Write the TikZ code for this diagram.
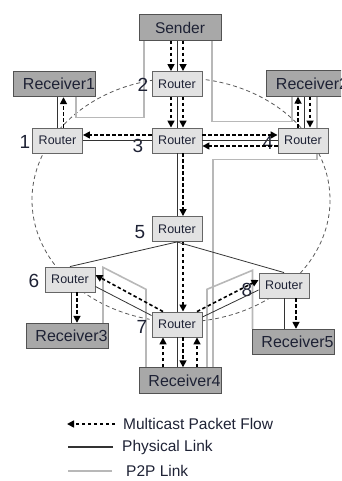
\documentclass[tikz,border=0pt]{standalone}
\usepackage{fontspec}
\setmainfont{Liberation Sans}
\usetikzlibrary{arrows.meta}
\definecolor{routerfill}{HTML}{E2E2E2}
\definecolor{hostfill}{HTML}{A8A8A8}
\definecolor{edgegray}{HTML}{666666}
\definecolor{ptwop}{HTML}{B8B8B8}
\definecolor{navy}{HTML}{1E2235}
\pgfdeclarelayer{background}
\pgfsetlayers{background,main}

\begin{document}
\begin{tikzpicture}[x=1pt,y=-1pt,
  router/.style={draw=edgegray, fill=routerfill, line width=0.9pt,
    minimum width=50pt, minimum height=25pt, inner sep=0pt,
    font=\fontsize{12.5}{12.5}\selectfont, text=navy},
  host/.style={draw=edgegray!80!black, fill=hostfill, line width=0.9pt,
    minimum width=82pt, minimum height=25.5pt, inner sep=0pt,
    font=\fontsize{15.5}{15.5}\selectfont, text=navy},
  recv/.style={host, font=\fontsize{16}{16}\selectfont,
    execute at begin node={\hspace*{9pt}}},
  num/.style={font=\fontsize{19}{19}\selectfont, text=navy, inner sep=0pt},
  mflow/.style={line width=1.6pt, dash pattern=on 3.5pt off 2.5pt,
    -{Triangle[length=7pt,width=7pt]}},
  phys/.style={line width=0.8pt, draw=black!80},
  p2p/.style={line width=1.6pt, draw=ptwop},
  ring/.style={line width=0.8pt, draw=black!65, dash pattern=on 4pt off 3pt},
  legtext/.style={font=\fontsize{15.5}{15.5}\selectfont, text=navy,
    inner sep=0pt, anchor=west}
]
\useasboundingbox (0,0) rectangle (341,481);
\clip (0,0) rectangle (341,481);

% hosts
\node[host] (snd) at (180,27.5) {Sender};
\node[recv] (rc1) at (54.5,84) {Receiver1};
\node[recv] (rc2) at (307.5,83.5) {Receiver2};
\node[recv] (rc3) at (67,336) {Receiver3};
\node[recv] (rc4) at (180,380.5) {Receiver4};
\node[recv] (rc5) at (293,342) {Receiver5};

% routers
\node[router] (r1) at (57.5,140.5) {Router};
\node[router] (r2) at (177,84) {Router};
\node[router] (r3) at (177,140.5) {Router};
\node[router] (r4) at (303,140.5) {Router};
\node[router] (r5) at (177,229) {Router};
\node[router] (r6) at (70,279.5) {Router};
\node[router] (r7) at (177,324.5) {Router};
\node[router] (r8) at (284,285.5) {Router};

% router numbers
\node[num] (n1) at (25,142) {1};
\node[num] (n2) at (143,85) {2};
\node[num] (n3) at (138,146) {3};
\node[num] (n4) at (268,143) {4};
\node[num] (n5) at (140,232) {5};
\node[num] (n6) at (34,281) {6};
\node[num] (n7) at (142,327) {7};
\node[num] (n8) at (247,290) {8};

% ring and point-to-point links behind the boxes
\begin{pgfonlayer}{background}
  \draw[ring] (181,200) ellipse [x radius=149, y radius=122];
  \draw[p2p] ([xshift=-36pt]snd.south) -- ++(0,77) -| ([xshift=21.5pt]rc1.south);
  \draw[p2p] ([xshift=32pt]snd.south) -- ++(0,81) -| ([xshift=-15.5pt]rc2.south);
  \draw[p2p] ([xshift=33pt]rc4.north) -- ++(0,-208) -| ([xshift=9.5pt]rc2.south);
  \draw[p2p] ([xshift=-34pt]rc4.north) -- ++(0,-78) -- ++(-43,-22) -- ([xshift=36pt]rc3.north);
  \draw[p2p] ([xshift=27pt]rc4.north) -- ++(0,-78) -- ++(45.5,-19) -- ([xshift=-40.5pt]rc5.north);
\end{pgfonlayer}

% Sender -> router 2 -> router 3
\draw[phys] (r2.north |- snd.south) -- (r2.north);
\draw[mflow] ([xshift=-6pt]r2.north |- snd.south) -- ([xshift=-6pt]r2.north);
\draw[mflow] ([xshift=6pt]r2.north |- snd.south) -- ([xshift=6pt]r2.north);
\draw[phys] (r2.south) -- (r3.north);
\draw[mflow] ([xshift=-6pt]r2.south) -- ([xshift=-6pt]r3.north);
\draw[mflow] ([xshift=6pt]r2.south) -- ([xshift=6pt]r3.north);

% router 3 <-> routers 1 and 4
\draw[phys] (r3.west) -- (r1.east);
\draw[mflow] ([yshift=5.5pt]r3.west) -- ([yshift=5.5pt]r1.east);
\draw[phys] (r3.east) -- (r4.west);
\draw[mflow] ([yshift=5.5pt]r3.east) -- ([yshift=5.5pt]r4.west);
\draw[mflow] ([yshift=-5.5pt]r4.west) -- ([yshift=-5.5pt]r3.east);

% router 1 -> Receiver1
\draw[phys] (r1.north) -- (r1.north |- rc1.south);
\draw[mflow] ([xshift=6pt]r1.north) -- ([xshift=6pt]r1.north |- rc1.south);

% router 4 <-> Receiver2
\draw[phys] ([xshift=1pt]r4.north) -- ([xshift=1pt]r4.north |- rc2.south);
\draw[mflow] ([xshift=-5pt]r4.north) -- ([xshift=-5pt]r4.north |- rc2.south);
\draw[mflow] ([xshift=7pt]r4.north |- rc2.south) -- ([xshift=7pt]r4.north);

% router 3 -> router 5 -> router 7
\draw[phys] (r3.south) -- (r5.north);
\draw[mflow] ([xshift=6pt]r3.south) -- ([xshift=6pt]r5.north);
\draw[phys] (r5.south) -- (r7.north);
\draw[mflow] ([xshift=6pt]r5.south) -- ([xshift=6pt]r7.north);

% router 5 to routers 6 and 8
\draw[phys] (r5.south) -- (r6.north);
\draw[phys] (r5.south) -- (r8.north);

% router 7 <-> routers 6 and 8
\draw[phys] ([yshift=-7pt]r6.east) -- ([yshift=9pt]r7.west);
\draw[mflow] ([xshift=-14pt]r7.north) -- ([yshift=4.5pt]r6.east);
\draw[phys] ([yshift=7.5pt]r7.east) -- ([yshift=-4.5pt]r8.west);
\draw[mflow] ([xshift=20pt]r7.north) -- ([yshift=5.5pt]r8.west);

% router 6 -> Receiver3, router 8 -> Receiver5
\draw[phys] ([xshift=1pt]r6.south) -- ([xshift=1pt]r6.south |- rc3.north);
\draw[mflow] ([xshift=7pt]r6.south) -- ([xshift=7pt]r6.south |- rc3.north);
\draw[phys] (r8.south) -- (r8.south |- rc5.north);
\draw[mflow] ([xshift=12pt]r8.south) -- ([xshift=12pt]r8.south |- rc5.north);

% router 7 <-> Receiver4
\draw[phys] (r7.south) -- (r7.south |- rc4.north);
\draw[mflow] ([xshift=-14pt]r7.south |- rc4.north) -- ([xshift=-14pt]r7.south);
\draw[mflow] ([xshift=6pt]r7.south) -- ([xshift=6pt]r7.south |- rc4.north);
\draw[mflow] ([xshift=20pt]r7.south |- rc4.north) -- ([xshift=20pt]r7.south);

% legend
\node[legtext] (lg1) at (123,424) {Multicast Packet Flow};
\node[legtext] (lg2) at (122,447) {Physical Link};
\node[legtext] (lg3) at (126,471) {P2P Link};
\draw[mflow] ([xshift=-8pt]lg1.west) -- ([xshift=-56pt]lg1.west);
\draw[phys, line width=1.1pt] ([xshift=-9pt]lg2.west) -- ([xshift=-54pt]lg2.west);
\draw[p2p] ([xshift=-14pt]lg3.west) -- ([xshift=-58pt]lg3.west);
\end{tikzpicture}
\end{document}
